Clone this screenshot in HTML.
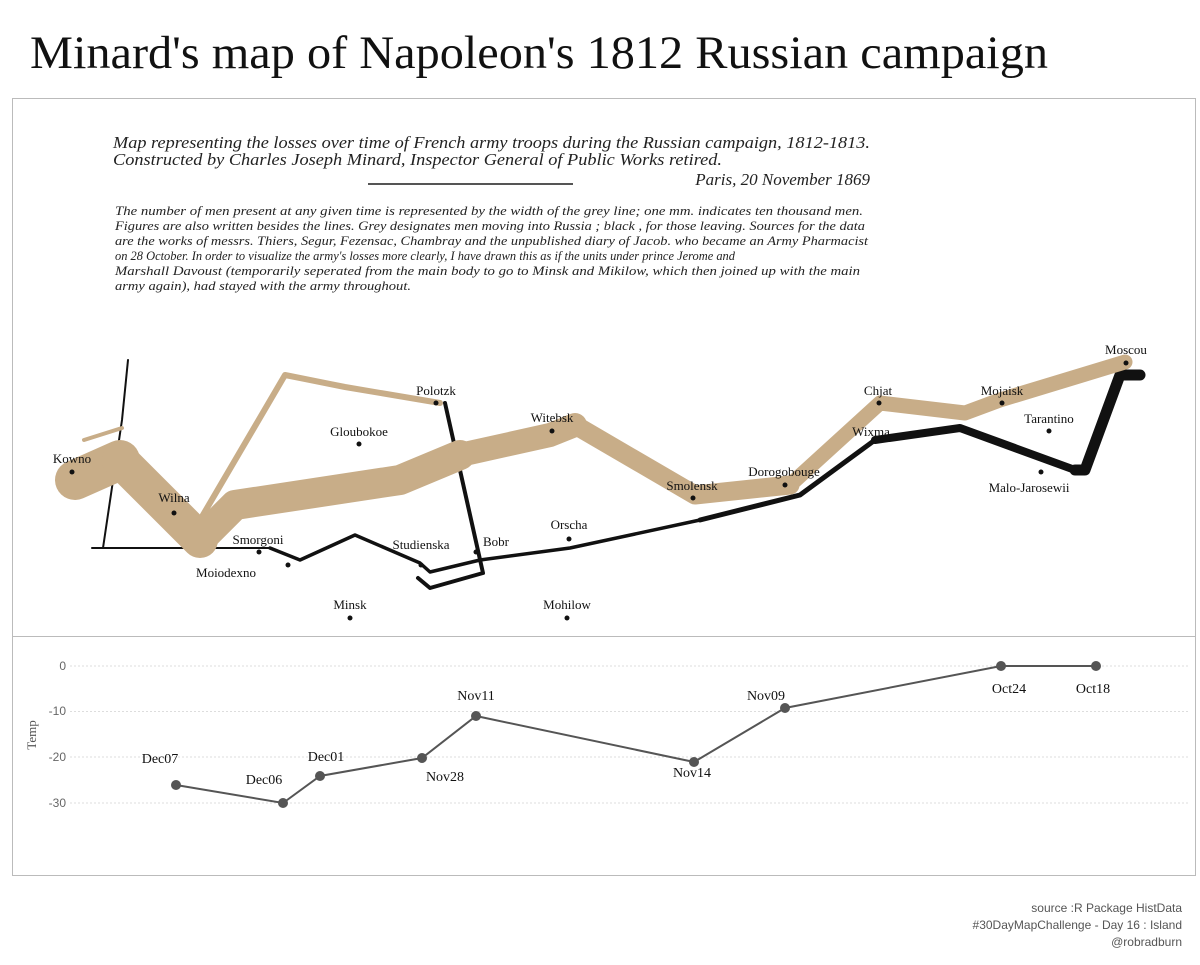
<!DOCTYPE html>
<html><head><meta charset="utf-8"><style>
body{margin:0;background:#fff;width:1200px;height:960px;overflow:hidden;font-family:"Liberation Serif",serif}
</style></head><body>
<svg width="1200" height="960" xmlns="http://www.w3.org/2000/svg" font-family="Liberation Serif, serif">
<text x="30" y="68" font-size="47" fill="#111" textLength="1018" lengthAdjust="spacingAndGlyphs">Minard's map of Napoleon's 1812 Russian campaign</text>
<rect x="12.5" y="98.5" width="1183" height="777" fill="none" stroke="#bbb"/>
<line x1="12" y1="636.5" x2="1196" y2="636.5" stroke="#bbb"/>
<g font-style="italic" fill="#222">
<text x="113" y="148" font-size="17" textLength="757" lengthAdjust="spacingAndGlyphs">Map representing the losses over time of French army troops during the Russian campaign, 1812-1813.</text>
<text x="113" y="165" font-size="17" textLength="609" lengthAdjust="spacingAndGlyphs">Constructed by Charles Joseph Minard, Inspector General of Public Works  retired.</text>
<text x="870" y="185" font-size="17" text-anchor="end">Paris, 20 November 1869</text>
<line x1="368" y1="184" x2="573" y2="184" stroke="#555" stroke-width="2"/>
<g font-size="13" lengthAdjust="spacingAndGlyphs">
<text x="115" y="215" textLength="748" lengthAdjust="spacingAndGlyphs">The number of men present at any given time is represented by the width of the grey line; one mm. indicates ten thousand men.</text>
<text x="115" y="230" textLength="750" lengthAdjust="spacingAndGlyphs">Figures are also written besides the lines. Grey designates men moving into Russia ; black , for those leaving.  Sources for the data</text>
<text x="115" y="245" textLength="753" lengthAdjust="spacingAndGlyphs">are the works of messrs. Thiers, Segur, Fezensac, Chambray and the unpublished diary of Jacob. who became an Army Pharmacist</text>
<text x="115" y="260" textLength="620" lengthAdjust="spacingAndGlyphs">on 28 October. In order to visualize the army's losses more clearly, I have drawn this as if the units under prince Jerome and</text>
<text x="115" y="275" textLength="745" lengthAdjust="spacingAndGlyphs">Marshall Davoust (temporarily seperated from the main body  to go to Minsk and Mikilow, which then joined up with the main</text>
<text x="115" y="290" textLength="296" lengthAdjust="spacingAndGlyphs">army again), had stayed with the army throughout.</text>
</g></g>
<g fill="none" stroke-linejoin="round" stroke-linecap="round">
<polyline points="128,360 122,420 103,548" stroke="#111" stroke-width="2"/>
<line x1="92" y1="548" x2="270" y2="548" stroke="#111" stroke-width="2"/>
<polyline points="200,520 285,375 345,387 440,403" stroke="#c8ad88" stroke-width="6"/>
<polyline points="84,440 122,428" stroke="#c8ad88" stroke-width="4"/>
<polyline points="445,403 483,573 430,588 418,578" stroke="#111" stroke-width="4"/>
<polyline points="270,548 300,560 355,535 420,563 430,572 480,560 570,548 700,520" stroke="#111" stroke-width="3.5"/>
<polyline points="700,520 800,495 875,440" stroke="#111" stroke-width="5"/>
<polyline points="875,440 960,428 1075,470" stroke="#111" stroke-width="8"/>
<polyline points="1075,470 1085,470 1120,375 1140,375" stroke="#111" stroke-width="11"/>
<polyline points="75,480 120,460" stroke="#c8ad88" stroke-width="40"/>
<polyline points="120,460 200,540" stroke="#c8ad88" stroke-width="36"/>
<polyline points="200,540 235,505 400,480 460,455" stroke="#c8ad88" stroke-width="30"/>
<polyline points="460,455 550,435 575,425" stroke="#c8ad88" stroke-width="24"/>
<polyline points="575,425 695,495 790,485" stroke="#c8ad88" stroke-width="19"/>
<polyline points="790,485 880,403 965,413 1000,400 1125,362" stroke="#c8ad88" stroke-width="15"/>
</g>
<g font-size="13" fill="#111">
<g text-anchor="middle">
<circle cx="72" cy="472" r="2.5"/><text x="72" y="463">Kowno</text>
<circle cx="174" cy="513" r="2.5"/><text x="174" y="502">Wilna</text>
<circle cx="259" cy="552" r="2.5"/><text x="258" y="544">Smorgoni</text>
<text x="226" y="577">Moiodexno</text><circle cx="288" cy="565" r="2.5"/>
<circle cx="359" cy="444" r="2.5"/><text x="359" y="436">Gloubokoe</text>
<circle cx="436" cy="403" r="2.5"/><text x="436" y="395">Polotzk</text>
<circle cx="552" cy="431" r="2.5"/><text x="552" y="422">Witebsk</text>
<text x="421" y="549">Studienska</text><circle cx="421" cy="565" r="2.5"/>
<circle cx="476" cy="552" r="2.5"/><text x="496" y="546">Bobr</text>
<circle cx="569" cy="539" r="2.5"/><text x="569" y="529">Orscha</text>
<circle cx="350" cy="618" r="2.5"/><text x="350" y="609">Minsk</text>
<circle cx="567" cy="618" r="2.5"/><text x="567" y="609">Mohilow</text>
<circle cx="693" cy="498" r="2.5"/><text x="692" y="490">Smolensk</text>
<circle cx="785" cy="485" r="2.5"/><text x="784" y="476">Dorogobouge</text>
<circle cx="879" cy="403" r="2.5"/><text x="878" y="395">Chjat</text>
<text x="871" y="436">Wixma</text>
<circle cx="1002" cy="403" r="2.5"/><text x="1002" y="395">Mojaisk</text>
<circle cx="1049" cy="431" r="2.5"/><text x="1049" y="423">Tarantino</text>
<circle cx="1041" cy="472" r="2.5"/><text x="1029" y="492">Malo-Jarosewii</text>
<circle cx="1126" cy="363" r="2.5"/><text x="1126" y="354">Moscou</text>
</g></g>
<g stroke="#ddd" stroke-dasharray="2,2">
<line x1="70" y1="666" x2="1190" y2="666"/><line x1="70" y1="711.5" x2="1190" y2="711.5"/>
<line x1="70" y1="757" x2="1190" y2="757"/><line x1="70" y1="803" x2="1190" y2="803"/>
</g>
<g font-family="Liberation Sans, sans-serif" font-size="12" fill="#666" text-anchor="end">
<text x="66" y="670">0</text><text x="66" y="715">-10</text><text x="66" y="761">-20</text><text x="66" y="807">-30</text>
</g>
<text transform="translate(36,735) rotate(-90)" font-size="13" fill="#555" text-anchor="middle">Temp</text>
<polyline points="176,785 283,803 320,776 422,758 476,716 694,762 785,708 1001,666 1096,666" fill="none" stroke="#555" stroke-width="2"/>
<g fill="#555">
<circle cx="176" cy="785" r="5"/><circle cx="283" cy="803" r="5"/><circle cx="320" cy="776" r="5"/>
<circle cx="422" cy="758" r="5"/><circle cx="476" cy="716" r="5"/><circle cx="694" cy="762" r="5"/>
<circle cx="785" cy="708" r="5"/><circle cx="1001" cy="666" r="5"/><circle cx="1096" cy="666" r="5"/>
</g>
<g font-size="14" fill="#111" text-anchor="middle">
<text x="160" y="763">Dec07</text><text x="264" y="784">Dec06</text><text x="326" y="761">Dec01</text>
<text x="445" y="781">Nov28</text><text x="476" y="700">Nov11</text><text x="692" y="777">Nov14</text>
<text x="766" y="700">Nov09</text><text x="1009" y="693">Oct24</text><text x="1093" y="693">Oct18</text>
</g>
<g font-family="Liberation Sans, sans-serif" font-size="12" fill="#555" text-anchor="end">
<text x="1182" y="912">source :R Package HistData</text>
<text x="1182" y="929">#30DayMapChallenge - Day 16 : Island</text>
<text x="1182" y="946">@robradburn</text>
</g>
</svg>
</body></html>
